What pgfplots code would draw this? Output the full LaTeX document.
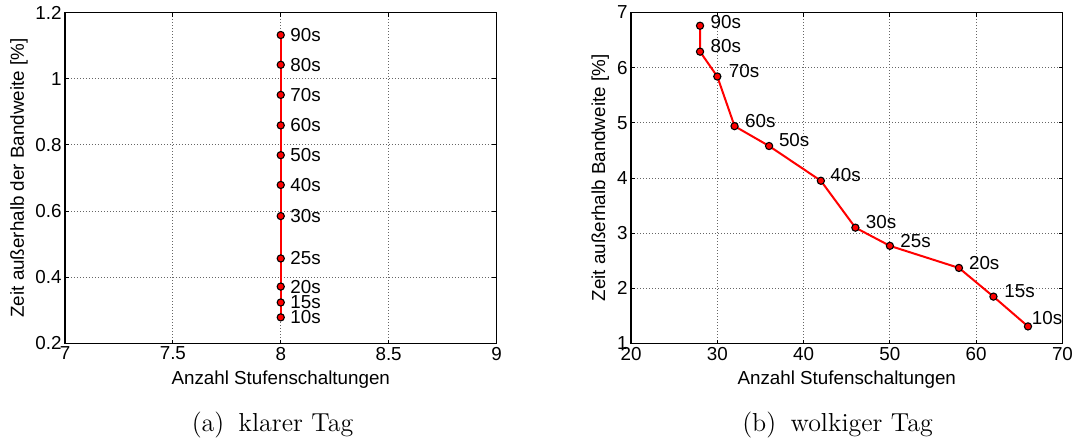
\documentclass[border=0pt]{standalone}
\usepackage{fontspec}
\usepackage{pgfplots}
\pgfplotsset{compat=1.18}
\newfontfamily\arial{Liberation Sans}

\pgfplotstableread{
x y lab dx dy
8 0.279 10s 4.6 0
8 0.324 15s 4.6 0
8 0.372 20s 4.6 0
8 0.457 25s 4.6 0
8 0.585 30s 4.6 0
8 0.679 40s 4.6 0
8 0.769 50s 4.6 0
8 0.859 60s 4.6 0
8 0.951 70s 4.6 0
8 1.042 80s 4.6 0
8 1.132 90s 4.6 0
}\klar

\pgfplotstableread{
x y lab dx dy
66 1.31 10s 1.7 4.2
62 1.85 15s 5.2 2.7
58 2.37 20s 4.8 2.3
50 2.77 25s 5.0 2.5
46 3.10 30s 5.0 2.7
42 3.95 40s 4.5 3.0
36 4.58 50s 4.7 3.0
32 4.94 60s 5.0 2.7
30 5.84 70s 5.5 2.5
28 6.29 80s 5.0 2.7
28 6.76 90s 5.0 2.0
}\wolkig

\begin{document}
\begin{tikzpicture}[font=\arial\fontsize{9.4}{11}\selectfont]
\useasboundingbox (0,0) rectangle (538pt,220.5pt);
\pgfplotsset{
  mystyle/.style={
    scale only axis, width=215.75pt, height=165.5pt,
    anchor=south west, clip=false,
    axis line style={line width=0.6pt},
    tick style={black, line width=0.5pt},
    major tick length=2pt,
    grid=major,
    grid style={black!60, line width=0.45pt, dash pattern=on 0.45pt off 1.05pt},
    /pgf/number format/assume math mode=true,
    xticklabel style={inner sep=1.5pt},
    yticklabel style={inner sep=1.5pt},
    xlabel style={at={(axis description cs:0.5,-0.110)}, anchor=center},
    point meta=explicit symbolic,
    nodes near coords,
    visualization depends on={\thisrow{dx}\as\dx},
    visualization depends on={\thisrow{dy}\as\dy},
    nodes near coords style={anchor=west, inner sep=0pt, xshift=\dx*1pt, yshift=\dy*1pt, text=black},
  },
  myline/.style={red, line width=1pt, mark=*, mark size=1.8pt,
    mark options={fill=red, draw=black, line width=0.55pt}},
}
\begin{axis}[mystyle, at={(32.5pt,48.75pt)},
  xmin=7, xmax=9, ymin=0.2, ymax=1.2,
  xtick={7,7.5,8,8.5,9}, ytick={0.2,0.4,0.6,0.8,1,1.2},
  xlabel={Anzahl Stufenschaltungen},
  ylabel={Zeit außerhalb der Bandweite [\%]},
  ylabel style={at={(axis description cs:-0.1066,0.5)}, anchor=center},
]
\addplot[myline] table[x=x, y=y, meta=lab] {\klar};
\end{axis}
\begin{axis}[mystyle, at={(315.5pt,48.75pt)},
  xmin=20, xmax=70, ymin=1, ymax=7,
  xtick={20,30,40,50,60,70}, ytick={1,2,3,4,5,6,7},
  xlabel={Anzahl Stufenschaltungen},
  ylabel={Zeit außerhalb Bandweite [\%]},
  ylabel style={at={(axis description cs:-0.0714,0.5)}, anchor=center},
]
\addplot[myline] table[x=x, y=y, meta=lab] {\wolkig};
\end{axis}
\node[font=\rmfamily\fontsize{13}{15}\selectfont] at (136.25pt,8pt) {(a)\hspace{0.55em}klarer Tag};
\node[font=\rmfamily\fontsize{13}{15}\selectfont] at (418.75pt,8pt) {(b)\hspace{0.55em}wolkiger Tag};
\end{tikzpicture}
\end{document}
